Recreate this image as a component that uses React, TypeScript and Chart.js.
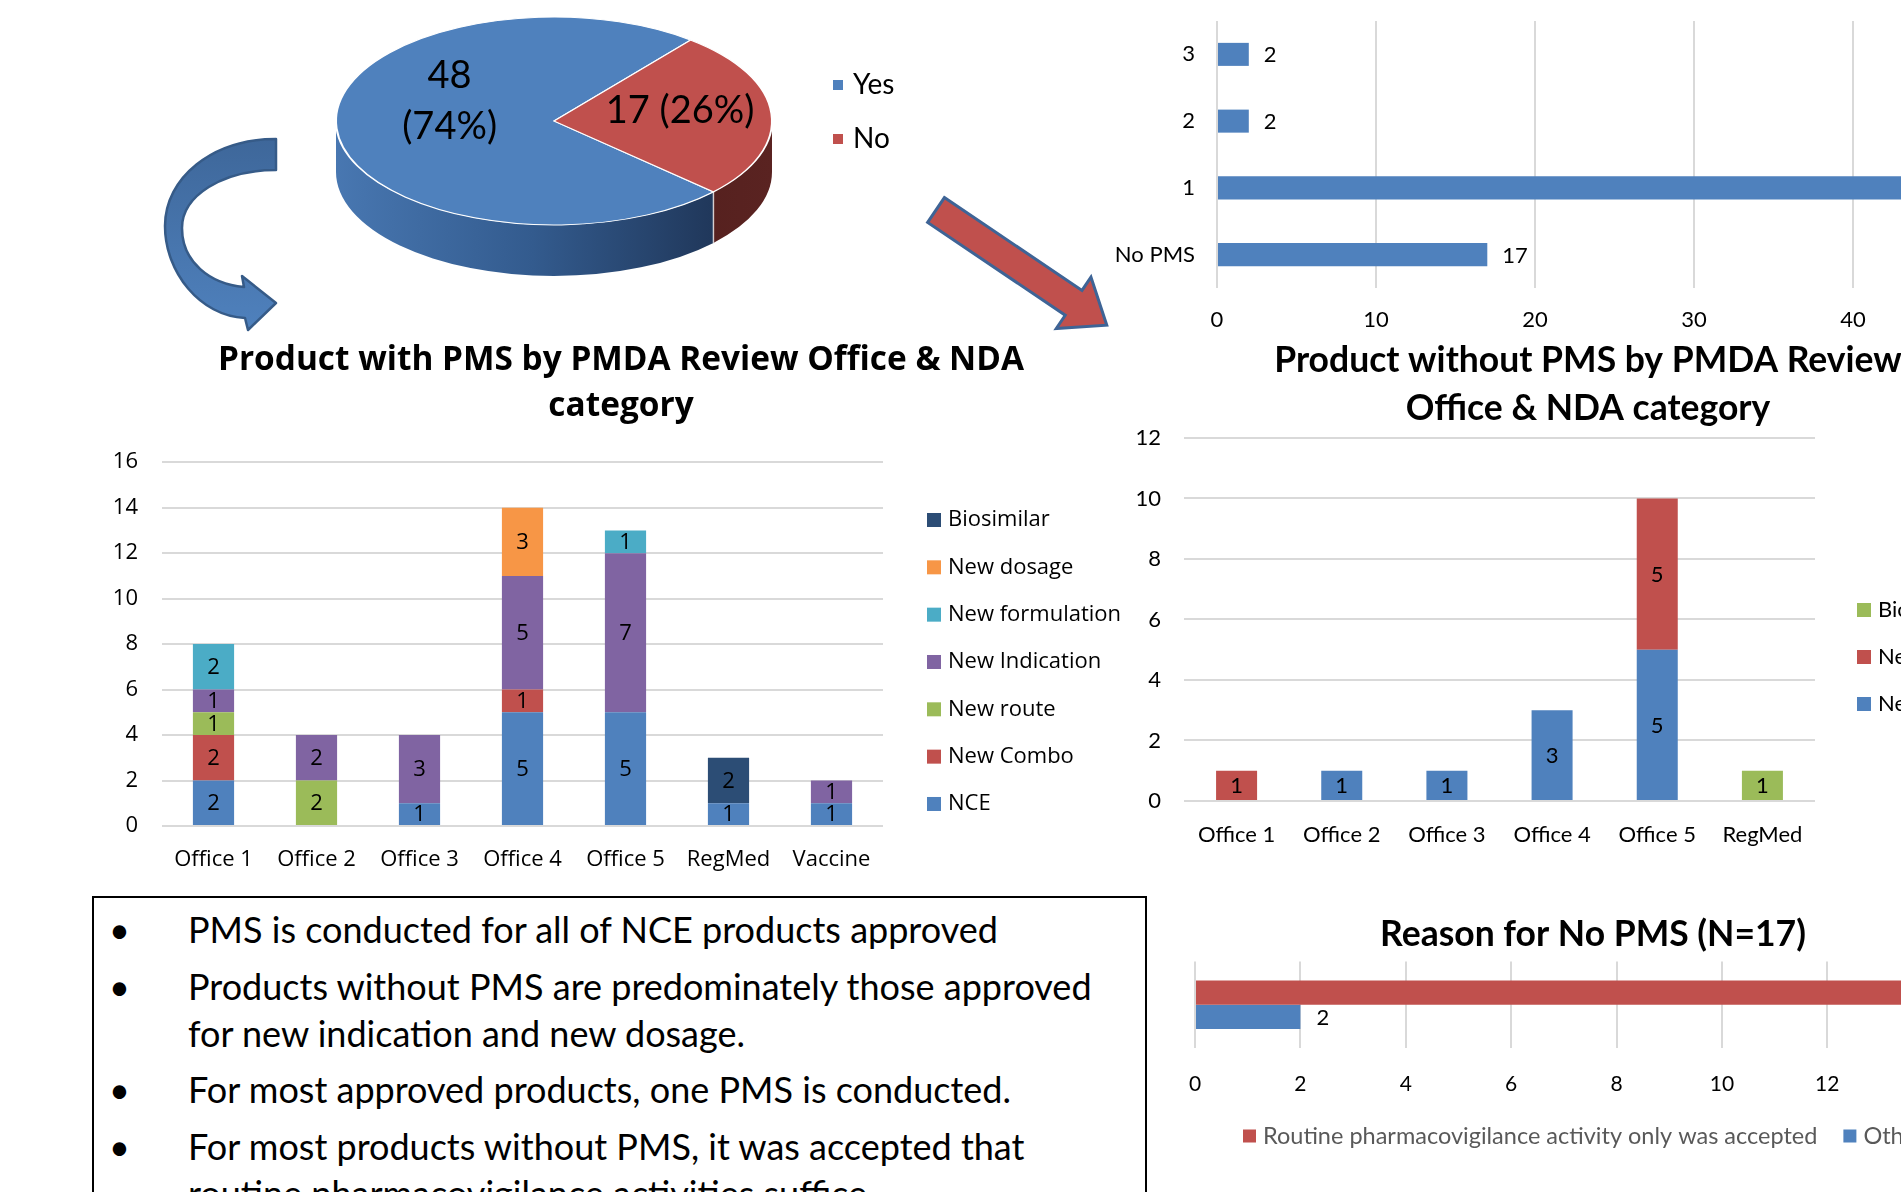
import React, { useEffect, useRef } from "react";
import { Chart, registerables } from "chart.js";

Chart.register(...registerables);

// ---------------- data ----------------
const pieLabels = ["Yes", "No"];
const pieValues = [48, 17];

const pmsCountLabels = ["3", "2", "1", "No PMS"];
const pmsCountValues = [2, 2, 44, 17];
const pmsCountMax = 50;
const pmsCountStep = 10;

const withOffices = ["Office 1", "Office 2", "Office 3", "Office 4", "Office 5", "RegMed", "Vaccine"];
const withNCE = [2, 0, 1, 5, 5, 1, 1];
const withNewCombo = [2, 0, 0, 1, 0, 0, 0];
const withNewRoute = [1, 2, 0, 0, 0, 0, 0];
const withNewIndication = [1, 2, 3, 5, 7, 0, 1];
const withNewFormulation = [2, 0, 0, 0, 1, 0, 0];
const withNewDosage = [0, 0, 0, 3, 0, 0, 0];
const withBiosimilar = [0, 0, 0, 0, 0, 2, 0];
const withMax = 16;
const withStep = 2;
const withTitle = ["Product with PMS by PMDA Review Office & NDA", "category"];

const withoutOffices = ["Office 1", "Office 2", "Office 3", "Office 4", "Office 5", "RegMed"];
const withoutNewIndication = [0, 1, 1, 3, 5, 0];
const withoutNewDosage = [1, 0, 0, 0, 5, 0];
const withoutBiosimilar = [0, 0, 0, 0, 0, 1];
const withoutMax = 12;
const withoutStep = 2;
const withoutTitle = ["Product without PMS by PMDA Review", "Office & NDA category"];

const reasonLabels = ["Routine pharmacovigilance activity only was accepted", "Other"];
const reasonValues = [15, 2];
const reasonMax = 16;
const reasonStep = 2;
const reasonTitle = "Reason for No PMS (N=17)";

const bullets = [
  ["PMS is conducted for all of NCE products approved"],
  ["Products without PMS are predominately those approved", "for new indication and new dosage."],
  ["For most approved products, one PMS is conducted."],
  ["For most products without PMS, it was accepted that", "routine pharmacovigilance activities suffice."],
];

// ---------------- styles ----------------
const C = {
  blue: "#4F81BD",
  red: "#C0504D",
  green: "#9BBB59",
  purple: "#8064A2",
  teal: "#4BACC6",
  orange: "#F79646",
  navy: "#2C4D75",
  grid: "#D9D9D9",
};
const OPEN = "'Open Sans', sans-serif";
const LATO = "Lato, sans-serif";

// ---------------- plugins ----------------
const valueLabels = {
  id: "valueLabels",
  afterDatasetsDraw(chart: any, _a: any, o: any) {
    if (!o || !o.mode) return;
    const ctx = chart.ctx;
    ctx.save();
    ctx.font = o.font;
    ctx.fillStyle = o.color;
    ctx.textBaseline = "middle";
    chart.data.datasets.forEach((ds: any, di: number) => {
      const meta = chart.getDatasetMeta(di);
      meta.data.forEach((el: any, i: number) => {
        const v = ds.data[i];
        if (!v) return;
        const p = el.getProps(["x", "y", "base"], true);
        if (o.mode === "center") {
          ctx.textAlign = "center";
          ctx.fillText(String(v), p.x, (p.y + p.base) / 2 + (o.dy || 0));
        } else {
          ctx.textAlign = "left";
          ctx.fillText(String(v), p.x + o.offset, p.y + (o.dy || 0));
        }
      });
    });
    ctx.restore();
  },
};

const boxLegend = {
  id: "boxLegend",
  afterDraw(chart: any, _a: any, o: any) {
    if (!o || o.x === undefined) return;
    const ctx = chart.ctx;
    let items: { text: string; color: string }[];
    if (chart.config.type === "pie") {
      const ds = chart.data.datasets[0];
      items = chart.data.labels.map((l: string, i: number) => ({ text: l, color: ds.backgroundColor[i] }));
    } else {
      items = chart.data.datasets.map((d: any) => ({ text: d.label, color: d.backgroundColor }));
    }
    if (o.reverse) items = items.slice().reverse();
    ctx.save();
    ctx.font = o.font;
    ctx.textBaseline = "middle";
    ctx.textAlign = "left";
    let x = o.x;
    let y = o.y;
    items.forEach((it) => {
      ctx.fillStyle = it.color;
      ctx.fillRect(x, y - o.box / 2, o.box, o.box);
      ctx.fillStyle = o.color;
      ctx.fillText(it.text, x + o.box + o.gap, y);
      if (o.horizontal) x += o.box + o.gap + ctx.measureText(it.text).width + o.spacing;
      else y += o.dy;
    });
    ctx.restore();
  },
};

const pie3d = {
  id: "pie3d",
  beforeDatasetsDraw(chart: any, _a: any, o: any) {
    const meta = chart.getDatasetMeta(0);
    const ctx = chart.ctx;
    const arcs = meta.data;
    chart.$pieSaved = false;
    if (!arcs.length) return;
    const cx = arcs[0].x;
    const cy0 = arcs[0].y;
    const R = arcs[0].outerRadius;
    const ry = R * o.k;
    const cy = o.cy;
    const TAU = Math.PI * 2;
    arcs.forEach((arc: any, i: number) => {
      const s = arc.startAngle;
      const e = arc.endAngle;
      for (let n = -2; n <= 2; n++) {
        const a = Math.max(s, n * TAU);
        const b = Math.min(e, n * TAU + Math.PI);
        if (b <= a) continue;
        ctx.beginPath();
        ctx.ellipse(cx, cy, R, ry, 0, a, b, false);
        ctx.ellipse(cx, cy + o.depth, R, ry, 0, b, a, true);
        ctx.closePath();
        const g = ctx.createLinearGradient(cx - R, 0, cx + R, 0);
        o.sideStops[i].forEach((st: [number, string]) => g.addColorStop(st[0], st[1]));
        ctx.fillStyle = g;
        ctx.fill();
      }
    });
    arcs.forEach((arc: any) => {
      for (let n = -2; n <= 2; n++) {
        const t = arc.startAngle - n * TAU;
        if (t > 0 && t < Math.PI) {
          const px = cx + R * Math.cos(t);
          const py = cy + ry * Math.sin(t);
          ctx.save();
          ctx.strokeStyle = "rgba(255,255,255,0.7)";
          ctx.lineWidth = 1.5;
          ctx.beginPath();
          ctx.moveTo(px, py);
          ctx.lineTo(px, py + o.depth);
          ctx.stroke();
          ctx.restore();
        }
      }
    });
    ctx.save();
    chart.$pieSaved = true;
    ctx.translate(0, cy);
    ctx.scale(1, o.k);
    ctx.translate(0, -cy0);
  },
  afterDatasetsDraw(chart: any, _a: any, o: any) {
    const ctx = chart.ctx;
    if (!chart.$pieSaved) return;
    ctx.restore();
    chart.$pieSaved = false;
    const meta = chart.getDatasetMeta(0);
    const arcs = meta.data;
    const cx = arcs[0].x;
    const R = arcs[0].outerRadius;
    const ry = R * o.k;
    const data = chart.data.datasets[0].data as number[];
    const total = data.reduce((s, v) => s + v, 0);
    ctx.save();
    ctx.font = o.labelFont;
    ctx.fillStyle = "#000";
    ctx.textAlign = "center";
    ctx.textBaseline = "middle";
    arcs.forEach((arc: any, i: number) => {
      const L = o.labels[i];
      const v = data[i];
      const pct = Math.round((v / total) * 100);
      const mid = (arc.startAngle + arc.endAngle) / 2;
      const x = cx + L.f * R * Math.cos(mid);
      const y = o.cy + L.f * ry * Math.sin(mid) + L.dy;
      if (L.split) {
        ctx.fillText(String(v), x, y - L.gap / 2);
        ctx.fillText(`(${pct}%)`, x, y + L.gap / 2);
      } else {
        ctx.fillText(`${v} (${pct}%)`, x, y);
      }
    });
    ctx.restore();
  },
};

// ---------------- configs ----------------
const base = { responsive: false, animation: false as const, devicePixelRatio: 1 };

function spacer(width: number): any {
  return {
    type: "linear",
    position: "right",
    display: true,
    ticks: { display: false },
    grid: { display: false, drawTicks: false },
    border: { display: false },
    afterFit: (s: any) => { s.width = width; },
  };
}

function pieConfig(): any {
  return {
    type: "pie",
    data: {
      labels: pieLabels,
      datasets: [{ data: pieValues, backgroundColor: [C.blue, C.red], borderColor: "#ffffff", borderWidth: 2, clip: false }],
    },
    options: {
      ...base,
      rotation: 133,
      layout: { padding: { left: 31, right: 171, top: 11, bottom: 11 } },
      plugins: {
        legend: { display: false },
        tooltip: { enabled: false },
        pie3d: {
          cy: 121,
          k: 0.477,
          depth: 51,
          sideStops: [
            [[0, "#4877B1"], [0.45, "#335B8E"], [1, "#1A2C4A"]],
            [[0, "#3E1514"], [1, "#5A2321"]],
          ],
          labelFont: `38px ${LATO}`,
          labels: [
            { f: 0.48, dy: -23, split: true, gap: 51 },
            { f: 0.58, dy: -6, split: false },
          ],
        },
        boxLegend: { x: 529, y: 85, dy: 54, box: 10, gap: 10, font: `28px ${LATO}`, color: "#000" },
      },
    },
    plugins: [pie3d, boxLegend],
  };
}

function pmsCountConfig(): any {
  return {
    type: "bar",
    data: {
      labels: pmsCountLabels,
      datasets: [{ label: "PMS", data: pmsCountValues, backgroundColor: C.blue }],
    },
    options: {
      ...base,
      indexAxis: "y",
      layout: { padding: { top: 21, right: 40, left: 0, bottom: 0 } },
      datasets: { bar: { categoryPercentage: 1, barPercentage: 0.345 } },
      scales: {
        x: {
          min: 0,
          max: pmsCountMax,
          ticks: { stepSize: pmsCountStep, color: "#000", font: { family: LATO, size: 22 }, padding: 19 },
          grid: { color: C.grid, lineWidth: 2, drawTicks: false },
          border: { display: false },
          afterFit: (s: any) => { s.height = 52; },
        },
        y: {
          ticks: { color: "#000", font: { family: LATO, size: 22 }, padding: 0 },
          grid: { display: false, drawTicks: true, tickLength: 22 },
          border: { display: false },
          afterFit: (s: any) => { s.width = 117; },
        },
      },
      plugins: {
        legend: { display: false },
        tooltip: { enabled: false },
        valueLabels: { mode: "end", offset: 15, font: `22px ${LATO}`, color: "#000", dy: 1 },
      },
    },
    plugins: [valueLabels],
  };
}

function withConfig(): any {
  return {
    type: "bar",
    data: {
      labels: withOffices,
      datasets: [
        { label: "NCE", data: withNCE, backgroundColor: C.blue },
        { label: "New Combo", data: withNewCombo, backgroundColor: C.red },
        { label: "New route", data: withNewRoute, backgroundColor: C.green },
        { label: "New Indication", data: withNewIndication, backgroundColor: C.purple },
        { label: "New formulation", data: withNewFormulation, backgroundColor: C.teal },
        { label: "New dosage", data: withNewDosage, backgroundColor: C.orange },
        { label: "Biosimilar", data: withBiosimilar, backgroundColor: C.navy },
      ],
    },
    options: {
      ...base,
      layout: { padding: 0 },
      datasets: { bar: { categoryPercentage: 1, barPercentage: 0.4 } },
      scales: {
        x: {
          stacked: true,
          ticks: { color: "#000", font: { family: OPEN, size: 22 }, padding: 21 },
          grid: { display: false, drawTicks: false },
          border: { display: false },
          afterFit: (s: any) => { s.height = 64; },
        },
        y: {
          stacked: true,
          min: 0,
          max: withMax,
          ticks: { stepSize: withStep, color: "#000", font: { family: OPEN, size: 22 }, padding: 24 },
          grid: { color: C.grid, lineWidth: 2, drawTicks: false },
          border: { display: false },
          afterFit: (s: any) => { s.width = 62; },
        },
        ySpacer: spacer(259),
      },
      plugins: {
        legend: { display: false },
        tooltip: { enabled: false },
        title: {
          display: true,
          text: withTitle,
          color: "#000",
          font: { family: OPEN, size: 33.4, weight: "bold", lineHeight: 1.38 },
          padding: { top: 7, bottom: 33 },
        },
        valueLabels: { mode: "center", font: `22px ${OPEN}`, color: "#000", dy: 1 },
        boxLegend: { x: 827, y: 190, dy: 47.33, box: 14, gap: 7, font: `22px ${OPEN}`, color: "#000", reverse: true },
      },
    },
    plugins: [valueLabels, boxLegend],
  };
}

function withoutConfig(): any {
  return {
    type: "bar",
    data: {
      labels: withoutOffices,
      datasets: [
        { label: "New Indication", data: withoutNewIndication, backgroundColor: C.blue },
        { label: "New dosage", data: withoutNewDosage, backgroundColor: C.red },
        { label: "Biosimilar", data: withoutBiosimilar, backgroundColor: C.green },
      ],
    },
    options: {
      ...base,
      layout: { padding: 0 },
      datasets: { bar: { categoryPercentage: 1, barPercentage: 0.39 } },
      scales: {
        x: {
          stacked: true,
          ticks: { color: "#000", font: { family: LATO, size: 22 }, padding: 21 },
          grid: { display: false, drawTicks: false },
          border: { display: false },
          afterFit: (s: any) => { s.height = 60; },
        },
        y: {
          stacked: true,
          min: 0,
          max: withoutMax,
          ticks: { stepSize: withoutStep, color: "#000", font: { family: LATO, size: 22 }, padding: 23 },
          grid: { color: C.grid, lineWidth: 2, drawTicks: false },
          border: { display: false },
          afterFit: (s: any) => { s.width = 84; },
        },
        ySpacer: spacer(261),
      },
      plugins: {
        legend: { display: false },
        tooltip: { enabled: false },
        title: {
          display: true,
          text: withoutTitle,
          color: "#000",
          font: { family: LATO, size: 35.5, weight: "bold", lineHeight: 1.352 },
          padding: { top: 4, bottom: 5 },
        },
        valueLabels: { mode: "center", font: `22px ${LATO}`, color: "#000", dy: 1 },
        boxLegend: { x: 757, y: 277, dy: 47, box: 14, gap: 7, font: `22px ${LATO}`, color: "#000", reverse: true },
      },
    },
    plugins: [valueLabels, boxLegend],
  };
}

function reasonConfig(): any {
  return {
    type: "bar",
    data: {
      labels: [""],
      datasets: [
        { label: reasonLabels[0], data: [reasonValues[0]], backgroundColor: C.red },
        { label: reasonLabels[1], data: [reasonValues[1]], backgroundColor: C.blue },
      ],
    },
    options: {
      ...base,
      indexAxis: "y",
      layout: { padding: { left: 0, right: 0, top: 0, bottom: 84 } },
      datasets: { bar: { categoryPercentage: 0.56, barPercentage: 1 } },
      scales: {
        x: {
          min: 0,
          max: reasonMax,
          ticks: { stepSize: reasonStep, color: "#000", font: { family: LATO, size: 21 }, padding: 24 },
          grid: { color: C.grid, lineWidth: 2, drawTicks: false },
          border: { display: false },
          afterFit: (s: any) => { s.height = 60; },
        },
        y: {
          ticks: { display: false },
          grid: { display: false, drawTicks: false },
          border: { display: false },
          afterFit: (s: any) => { s.width = 87; },
        },
        ySpacer: spacer(40),
      },
      plugins: {
        legend: { display: false },
        tooltip: { enabled: false },
        title: {
          display: true,
          text: reasonTitle,
          color: "#000",
          font: { family: LATO, size: 35.5, weight: "bold", lineHeight: 1.2 },
          padding: { top: 13, bottom: 6 },
        },
        valueLabels: { mode: "end", offset: 16, font: `22px ${LATO}`, color: "#000", dy: 1 },
        boxLegend: {
          x: 135, y: 236, box: 13, gap: 7, spacing: 26, horizontal: true,
          font: `23.5px ${LATO}`, color: "#595959",
        },
      },
    },
    plugins: [valueLabels, boxLegend],
  };
}

// ---------------- components ----------------
function ChartBox(props: { left: number; top: number; width: number; height: number; make: () => any }) {
  const ref = useRef<HTMLCanvasElement>(null);
  useEffect(() => {
    const chart = new Chart(ref.current as HTMLCanvasElement, props.make());
    return () => chart.destroy();
  }, []);
  return (
    <canvas
      ref={ref}
      width={props.width}
      height={props.height}
      style={{ position: "absolute", left: props.left, top: props.top, width: props.width, height: props.height }}
    />
  );
}

function Arrows() {
  return (
    <svg width={1901} height={1192} style={{ position: "absolute", left: 0, top: 0 }}>
      <defs>
        <linearGradient id="blueArrow" x1="0" y1="0" x2="0" y2="1">
          <stop offset="0" stopColor="#3E679A" />
          <stop offset="1" stopColor="#4F81BD" />
        </linearGradient>
      </defs>
      <path
        d="M276 139 C212 139 165 178 165 226 C165 272 200 316 245 318 L248 330 L276 303 L242 276 L244 287 C210 284 182 262 182 228 C182 196 222 170 276 170 Z"
        fill="url(#blueArrow)"
        stroke="#365B88"
        strokeWidth={2.5}
        strokeLinejoin="round"
      />
      <g transform="translate(936,210) rotate(34)">
        <polygon
          points="0,-15 166,-15 166,-31 206,0 166,31 166,15 0,15"
          fill="#C0504D"
          stroke="#3E6496"
          strokeWidth={3}
          strokeLinejoin="miter"
        />
      </g>
    </svg>
  );
}

function TextBox() {
  return (
    <div
      style={{
        position: "absolute",
        left: 92,
        top: 896,
        width: 1055,
        height: 400,
        border: "2px solid #000",
        boxSizing: "border-box",
        fontFamily: LATO,
        fontSize: 36,
        lineHeight: "47px",
        color: "#000",
        paddingTop: 8,
      }}
    >
      {bullets.map((lines, i) => (
        <div key={i} style={{ position: "relative", paddingLeft: 94, marginBottom: 9.5, whiteSpace: "nowrap" }}>
          <span style={{ position: "absolute", left: 15, top: 0 }}>•</span>
          {lines.map((l, j) => (
            <div key={j}>{l}</div>
          ))}
        </div>
      ))}
    </div>
  );
}

export default function App() {
  return (
    <div
      style={{
        position: "absolute",
        left: 0,
        top: 0,
        width: 1901,
        height: 1192,
        overflow: "hidden",
        background: "#ffffff",
      }}
    >
      <Arrows />
      <ChartBox left={304} top={0} width={640} height={460} make={pieConfig} />
      <ChartBox left={1100} top={0} width={952} height={340} make={pmsCountConfig} />
      <ChartBox left={100} top={330} width={1042} height={560} make={withConfig} />
      <ChartBox left={1100} top={333} width={976} height={528} make={withoutConfig} />
      <TextBox />
      <ChartBox left={1108} top={900} width={970} height={292} make={reasonConfig} />
    </div>
  );
}
